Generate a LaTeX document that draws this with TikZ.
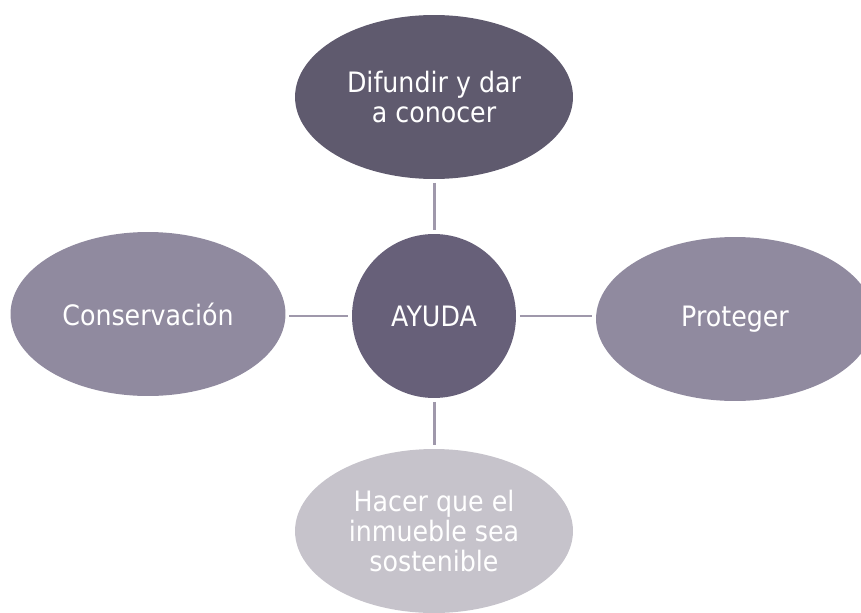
\documentclass[tikz,border=0pt]{standalone}
\usepackage{fontspec}
\setmainfont{DejaVu Sans}[FakeStretch=0.9]
\definecolor{HubPlum}  {HTML}{676079}
\definecolor{TopPlum}  {HTML}{5F5A6E}
\definecolor{SidePlum} {HTML}{908A9F}
\definecolor{LowPlum}  {HTML}{C6C3CB}
\definecolor{LinkGray} {HTML}{9F98AB}
\usetikzlibrary{shapes.geometric}

\begin{document}
\begin{tikzpicture}[x=0.02cm,y=-0.02cm,
  petal/.style={ellipse,draw=none,inner sep=0pt,
    minimum width=5.56cm,minimum height=3.28cm,
    text=white,align=center,font=\fontsize{16}{17}\selectfont},
  hub/.style={circle,fill=HubPlum,inner sep=0pt,minimum size=3.28cm,
    text=white,font=\fontsize{16}{17}\selectfont},
  link/.style={draw=LinkGray,line width=1.7pt,shorten <=2pt,shorten >=2pt}]
  \useasboundingbox (0,0) rectangle (861,612);
  \clip (0,0) rectangle (861,612);
  \node[hub](C) at (434,316) {AYUDA};
  \node[petal,fill=TopPlum](T) at (434,97)
    {Difundir y dar\\a conocer};
  \node[petal,fill=SidePlum,minimum width=5.5cm](L) at (148,314)
    {Conservación};
  \node[petal,fill=SidePlum](R) at (735,319)
    {Proteger};
  \node[petal,fill=LowPlum](B) at (434,531)
    {Hacer que el\\inmueble sea\\sostenible};
  \draw[link](T)--(C);
  \draw[link](L.east|-C)--(C);
  \draw[link](C)--(R.west|-C);
  \draw[link](C)--(B);
\end{tikzpicture}
\end{document}
